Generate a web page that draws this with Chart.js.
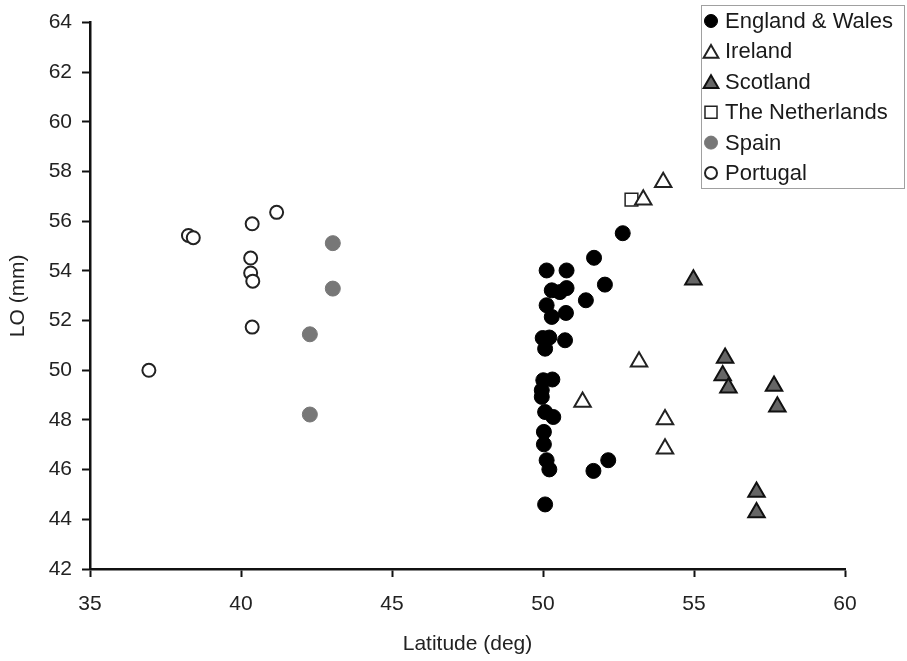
<!DOCTYPE html>
<html>
<head>
<meta charset="utf-8">
<script src="https://cdn.jsdelivr.net/npm/chart.js@4.4.1/dist/chart.umd.min.js"></script>
<style>
  html, body { margin: 0; padding: 0; background: #fff; }
  #wrap { width: 907px; height: 661px; position: relative; }
</style>
</head>
<body>
<div id="wrap"><canvas id="chart" width="907" height="661"></canvas></div>
<script>
// values: latitude (deg) and LO (mm)
const ewLat = [52.64, 51.69, 50.12, 50.78, 52.05, 50.29, 50.56, 50.78, 51.42, 50.12, 50.29, 50.76, 49.99, 50.21, 50.07, 50.73, 50.01, 50.31, 49.96, 49.96, 50.07, 50.34, 50.03, 50.03, 50.12, 50.21, 52.16, 51.67, 50.07];
const ewLO  = [55.52, 54.53, 54.02, 54.02, 53.45, 53.22, 53.15, 53.31, 52.82, 52.62, 52.15, 52.31, 51.30, 51.32, 50.87, 51.21, 49.60, 49.63, 49.20, 48.93, 48.32, 48.12, 47.52, 47.02, 46.38, 46.01, 46.38, 45.95, 44.60];

const irLat = [53.98, 53.32, 53.18, 51.31, 54.04, 54.04];
const irLO  = [57.57, 56.87, 50.34, 48.72, 48.02, 46.84];

const scLat = [54.98, 56.03, 55.95, 56.14, 57.65, 57.76, 57.07, 57.07];
const scLO  = [53.65, 50.50, 49.79, 49.30, 49.37, 48.53, 45.10, 44.27];

const nlLat = [52.93];
const nlLO  = [56.87];

const esLat = [43.04, 43.04, 42.28, 42.28];
const esLO  = [55.12, 53.29, 51.45, 48.22];

const ptLat = [38.26, 38.42, 40.37, 41.18, 40.32, 40.32, 40.39, 40.37, 36.95];
const ptLO  = [55.43, 55.34, 55.90, 56.36, 54.52, 53.92, 53.59, 51.74, 50.00];

const xTicks = [35, 40, 45, 50, 55, 60];
const yTicks = [42, 44, 46, 48, 50, 52, 54, 56, 58, 60, 62, 64];

function pts(lat, lo) {
  return lat.map((v, i) => ({ x: v, y: lo[i] }));
}

const FONT = "'Liberation Sans', Arial, sans-serif";

// legend drawn inside the plot, top right, like the original
const boxLegend = {
  id: 'boxLegend',
  afterDraw(chart) {
    const ctx = chart.ctx;
    const left = 701, top = 5, w = 203, h = 183;
    ctx.save();
    ctx.fillStyle = '#fff';
    ctx.fillRect(left, top, w, h);
    ctx.strokeStyle = '#a0a0a0';
    ctx.lineWidth = 1;
    ctx.strokeRect(left + 0.5, top + 0.5, w, h);
    ctx.font = '22px ' + FONT;
    ctx.textBaseline = 'middle';
    chart.data.datasets.forEach((ds, i) => {
      const y = 21 + i * 30.4;
      ctx.fillStyle = ds.backgroundColor;
      ctx.strokeStyle = ds.borderColor;
      ctx.lineWidth = ds.borderWidth;
      Chart.helpers.drawPoint(ctx, {
        pointStyle: ds.pointStyle,
        radius: ds.legendRadius,
        borderWidth: ds.borderWidth,
        rotation: 0
      }, 711, y + (ds.pointStyle === 'triangle' ? 2 : 0));
      ctx.fillStyle = '#1a1a1a';
      ctx.fillText(ds.label, 725, y + 1);
    });
    ctx.restore();
  }
};

const axisGrid = {
  display: true, drawOnChartArea: false, drawTicks: true,
  tickLength: 8, tickColor: '#111', tickWidth: 2
};

new Chart(document.getElementById('chart'), {
  type: 'scatter',
  data: {
    datasets: [
      { label: 'England & Wales', data: pts(ewLat, ewLO), pointStyle: 'circle', pointRadius: 7.5,
        backgroundColor: '#000', borderColor: '#000', borderWidth: 1, legendRadius: 6.5 },
      { label: 'Ireland', data: pts(irLat, irLO), pointStyle: 'triangle', pointRadius: 9.5,
        backgroundColor: '#fff', borderColor: '#222', borderWidth: 2, legendRadius: 8.5 },
      { label: 'Scotland', data: pts(scLat, scLO), pointStyle: 'triangle', pointRadius: 9.5,
        backgroundColor: '#666', borderColor: '#111', borderWidth: 2, legendRadius: 8.5 },
      { label: 'The Netherlands', data: pts(nlLat, nlLO), pointStyle: 'rect', pointRadius: 9,
        backgroundColor: '#fff', borderColor: '#222', borderWidth: 1.5, legendRadius: 8.5 },
      { label: 'Spain', data: pts(esLat, esLO), pointStyle: 'circle', pointRadius: 7.5,
        backgroundColor: '#777', borderColor: '#777', borderWidth: 1, legendRadius: 6.5 },
      { label: 'Portugal', data: pts(ptLat, ptLO), pointStyle: 'circle', pointRadius: 6.5,
        backgroundColor: '#fff', borderColor: '#222', borderWidth: 2, legendRadius: 6 }
    ]
  },
  options: {
    responsive: false,
    animation: false,
    layout: { padding: { top: 22, right: 62, left: 0, bottom: 0 } },
    plugins: {
      legend: { display: false },
      tooltip: { enabled: false }
    },
    scales: {
      x: {
        type: 'linear', min: 35, max: 60,
        afterBuildTicks: s => { s.ticks = xTicks.map(v => ({ value: v })); },
        afterFit: s => { s.height = 92; },
        grid: axisGrid,
        border: { display: true, color: '#111', width: 2.5 },
        ticks: { color: '#222', font: { family: FONT, size: 21 }, padding: 15, maxRotation: 0 },
        title: { display: true, text: 'Latitude (deg)', color: '#222', font: { family: FONT, size: 21 }, padding: { top: 4, bottom: 4 } }
      },
      y: {
        type: 'linear', min: 42, max: 64,
        afterBuildTicks: s => { s.ticks = yTicks.map(v => ({ value: v })); },
        afterFit: s => { s.width = 90; },
        grid: axisGrid,
        border: { display: true, color: '#111', width: 2.5 },
        ticks: { color: '#222', font: { family: FONT, size: 21 }, padding: 10 },
        title: { display: true, text: 'LO (mm)', color: '#222', font: { family: FONT, size: 21 }, padding: { top: 6, bottom: 0 } }
      }
    }
  },
  plugins: [boxLegend]
});
</script>
</body>
</html>
